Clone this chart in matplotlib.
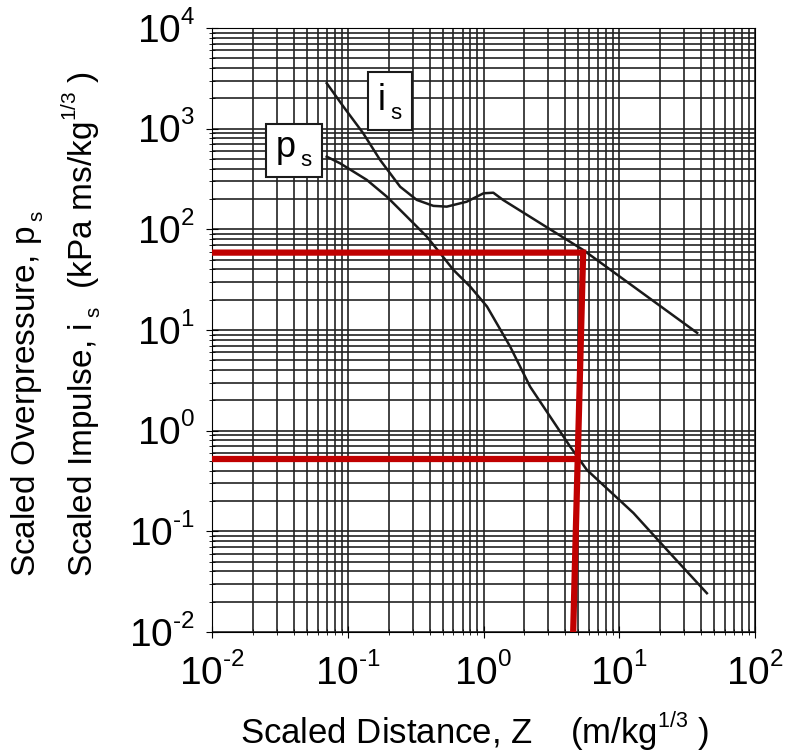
import numpy as np
import matplotlib
matplotlib.use('Agg')
import matplotlib.pyplot as plt
import matplotlib._mathtext as mathtext_mod

plt.rcParams['font.family'] = ['Liberation Sans', 'DejaVu Sans']
plt.rcParams['mathtext.fontset'] = 'custom'
plt.rcParams['mathtext.rm'] = 'Liberation Sans'
plt.rcParams['mathtext.it'] = 'Liberation Sans'
plt.rcParams['mathtext.default'] = 'regular'
# smaller, higher superscripts and lower subscripts, like the scanned chart
mathtext_mod.SHRINK_FACTOR = 0.62
mathtext_mod.FontConstantsBase.sup1 = 0.85
mathtext_mod.FontConstantsBase.sub1 = 0.45
mathtext_mod.FontConstantsBase.sub2 = 0.6

# scaled impulse i_s curve
is_z = [0.070, 0.093, 0.130, 0.173, 0.243, 0.322, 0.427, 0.536, 0.751, 1.0, 1.18, 1.39, 5.41, 37.4]
is_v = [2825, 1652, 899, 489, 265, 196, 171, 168, 188, 228, 231, 196, 62.4, 9.36]

# scaled overpressure p_s curve
ps_z = [0.070, 0.0877, 0.138, 0.194, 0.272, 0.382, 0.479, 0.600, 0.797, 1.06, 1.57, 2.20,
        3.09, 4.34, 5.76, 12.7, 22.4, 44.1]
ps_v = [527, 453, 310, 211, 134, 84.6, 57.9, 39.5, 27.0, 17.1, 6.84, 2.74,
        1.38, 0.695, 0.408, 0.152, 0.0655, 0.0243]

# red reading lines
red_upper_z = [0.01, 5.41, 4.57]
red_upper_v = [58.7, 58.7, 0.01]
red_lower_z = [0.01, 4.9]
red_lower_v = [0.52, 0.52]

x_ticks = [1e-2, 1e-1, 1e0, 1e1, 1e2]
y_ticks = [1e-2, 1e-1, 1e0, 1e1, 1e2, 1e3, 1e4]


def pow_label(v):
    e = int(round(np.log10(v)))
    if e < 0:
        return r'$10^{\text{-}%d}$' % (-e)
    return r'$10^{%d}$' % e


fig = plt.figure(figsize=(7.85, 7.56), dpi=100)
ax = fig.add_axes([0.270, 0.164, 0.692, 0.799])
ax.set_xscale('log')
ax.set_yscale('log')
ax.set_xlim(1e-2, 1e2)
ax.set_ylim(1e-2, 1e4)

ax.grid(True, which='both', color='#222222', linewidth=1.2)
ax.set_axisbelow(True)

ax.plot(is_z, is_v, color='#1a1a1a', lw=1.8, zorder=3)
ax.plot(ps_z, ps_v, color='#1a1a1a', lw=1.8, zorder=3)

ax.plot(red_upper_z, red_upper_v, color='#c00000', lw=4.5, zorder=4, solid_joinstyle='miter')
ax.plot(red_lower_z, red_lower_v, color='#c00000', lw=4.5, zorder=4)

bbox = dict(boxstyle='square,pad=0.25', fc='white', ec='#1a1a1a', lw=1.5)
ax.text(0.205, 1884, r'i$\,_s$', fontsize=26, ha='center', va='center', bbox=bbox, zorder=5)
ax.text(0.0402, 601, r'p$\,_s$', fontsize=26, ha='center', va='center', bbox=bbox, zorder=5)

ax.set_xticks(x_ticks)
ax.set_xticklabels([pow_label(v) for v in x_ticks])
ax.set_yticks(y_ticks)
ax.set_yticklabels([pow_label(v) for v in y_ticks])
ax.tick_params(axis='both', which='major', labelsize=28, direction='inout', length=8)
ax.tick_params(axis='both', which='minor', direction='inout', length=5)
ax.tick_params(axis='x', pad=12)
ax.tick_params(axis='y', pad=8)

ax.set_xlabel(r'Scaled Distance, Z    (m/kg$^{1/3}$ )', fontsize=25)
ax.xaxis.set_label_coords(0.484, -0.128)

fig.text(0.036, 0.237, r'Scaled Overpressure, p$\,_s$', rotation=90, fontsize=24,
         ha='center', va='bottom')
fig.text(0.104, 0.237, r'Scaled Impulse, i$\,_s$  (kPa ms/kg$^{1/3}$ )', rotation=90,
         fontsize=24, ha='center', va='bottom')

fig.savefig('out.png', dpi=100)
